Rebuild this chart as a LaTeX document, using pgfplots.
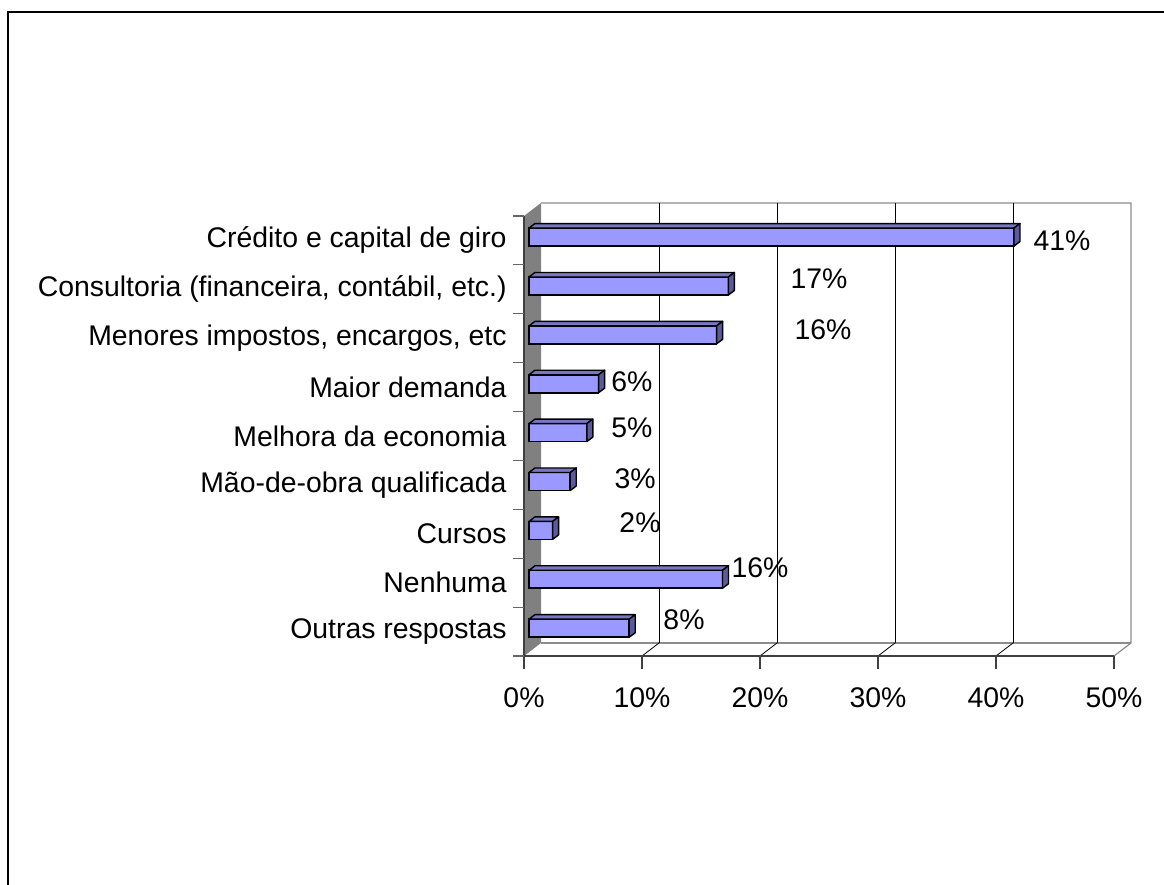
\documentclass[border=0pt]{standalone}
\usepackage{pgfplots}
\usepackage{pgfplotstable}
\pgfplotsset{compat=1.18}
\usepackage{fontspec}
\setmainfont{Liberation Sans}
\definecolor{barfront}{HTML}{9999FF}
\definecolor{bartop}{HTML}{7777C4}
\definecolor{barside}{HTML}{5A5A9C}
\definecolor{wallgray}{HTML}{808080}
\pgfplotstableread{
k v
0 8.5
1 16.4
2 2.0
3 3.5
4 4.9
5 5.9
6 15.9
7 16.9
8 41.1
}\bars
\begin{document}
\begin{tikzpicture}[x=1pt,y=1pt]
\path[use as bounding box] (0,0) rectangle (582,442.5);
\draw[line width=0.8pt] (4,0) -- (4,436.5) -- (582,436.5);
% side wall
\fill[wallgray] (262,114.5) -- (270.5,121) -- (270.5,341) -- (262,334.5) -- cycle;
% back plane and floor
\draw[black!45, line width=0.6pt] (270.5,341) -- (565.5,341) -- (565.5,121) -- (557,114.5);
\draw[black!45, line width=0.6pt] (270.5,121) -- (565.5,121);
\foreach \k in {1,...,4} {
  \draw[line width=0.4pt] (270.5+59*\k,121) -- (270.5+59*\k,341);
  \draw[line width=0.4pt] (262+59*\k,114.5) -- (270.5+59*\k,121);
}
% front axes
\draw[black!75, line width=0.7pt] (262,114.5) -- (557,114.5);
\draw[black!75, line width=0.7pt] (262,114.5) -- (262,334.5);
\foreach \k in {0,...,5} \draw[black!75, line width=0.6pt] (262+59*\k,114.5) -- (262+59*\k,108);
\foreach \k in {0,...,9} \draw[black!60, line width=0.6pt] (256.5,114.5+24.4444*\k) -- (262,114.5+24.4444*\k);
\begin{axis}[
  at={(262pt,114.5pt)}, anchor=south west,
  scale only axis, width=295pt, height=220pt,
  xmin=0, xmax=50, ymin=-0.5, ymax=8.5,
  axis line style={draw=none},
  major tick length=0pt,
  xtick={0,10,...,50},
  xticklabels={0\%,10\%,20\%,30\%,40\%,50\%},
  ytick={0,...,8},
  yticklabels={Outras respostas, Nenhuma, Cursos, Mão-de-obra qualificada, Melhora da economia, Maior demanda, {Menores impostos, encargos, etc}, {Consultoria (financeira, contábil, etc.)}, Crédito e capital de giro},
  tick label style={font=\fontsize{14.2}{16}\selectfont, text=black},
  xticklabel style={anchor=center, inner sep=0pt, yshift=-21pt},
  yticklabel style={anchor=east, inner sep=0pt, xshift=-8.5pt},
  clip=false,
  bar width=9pt,
]
\addplot[xbar, bar shift=0pt, fill=barfront, draw=black, line width=0.8pt, xshift=2.5pt, yshift=1.7pt]
  table[x=v,y=k] {\bars};
\addplot[only marks, scatter, xshift=2.5pt, yshift=1.7pt,
  mark=*, mark size=0pt, mark options={draw=none,fill=none},
  visualization depends on={\thisrow{v} \as \barlen},
  scatter/@pre marker code/.code={%
    \pgfmathsetmacro\L{-\barlen*5.9}%
    \filldraw[fill=bartop, draw=black, line width=0.7pt, line join=round]
      (\L pt,4.5pt) -- (0pt,4.5pt) -- (3pt,6.75pt) -- (\L pt+3pt,6.75pt) -- cycle;
    \filldraw[fill=barside, draw=black, line width=0.7pt, line join=round]
      (0pt,-4.5pt) -- (0pt,4.5pt) -- (3pt,6.75pt) -- (3pt,-2.25pt) -- cycle;
  },
  scatter/@post marker code/.code={},
] table[x=v,y=k] {\bars};
\begin{scope}[every node/.style={font=\fontsize{14.2}{16}\selectfont, inner sep=0pt}]
\node at (axis cs:45.6,7.99) {41\%};
\node at (axis cs:25.0,7.21) {17\%};
\node at (axis cs:25.34,6.17) {16\%};
\node at (axis cs:9.15,5.12) {6\%};
\node at (axis cs:9.15,4.16) {5\%};
\node at (axis cs:9.41,3.12) {3\%};
\node at (axis cs:9.83,2.22) {2\%};
\node at (axis cs:20.0,1.30) {16\%};
\node at (axis cs:13.56,0.24) {8\%};
\end{scope}
\end{axis}
\end{tikzpicture}
\end{document}
